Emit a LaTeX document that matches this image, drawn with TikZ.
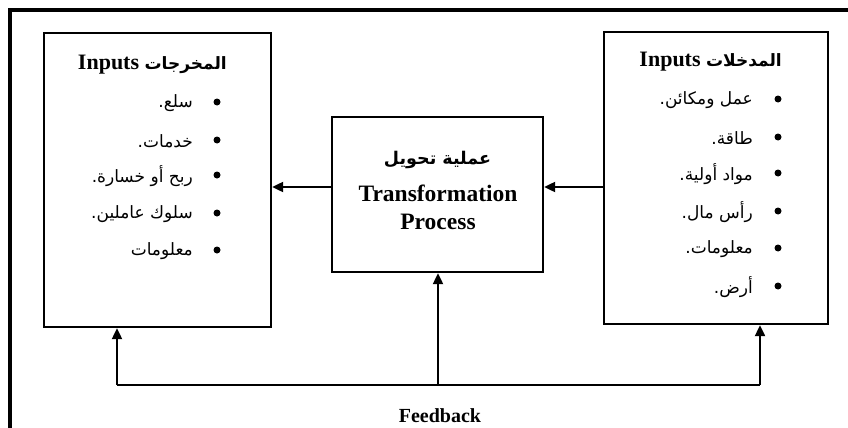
\documentclass[tikz,border=0pt]{standalone}
\usepackage{fontspec}
\setmainfont{Liberation Serif}
\newfontfamily\arb[Script=Arabic]{DejaVu Sans}
\TeXXeTstate=1
\usetikzlibrary{arrows.meta}
\tikzset{
  box/.style={draw, line width=2.4pt, inner sep=0pt},
  arr/.style={line width=2.2pt, -{Triangle[length=11pt,width=10pt]}},
  feed/.style={line width=2.2pt},
  item/.style={anchor=east, inner sep=0pt, font=\arb\fontsize{17}{20}\selectfont},
  ttl/.style={anchor=east, inner sep=0pt, font=\fontsize{22}{26}\selectfont\bfseries},
  bul/.style={circle, fill, inner sep=0pt, minimum size=7pt}
}
\begin{document}
\begin{tikzpicture}[x=1pt,y=-1pt]
\useasboundingbox (0,0) rectangle (848,428);
\fill[white] (0,0) rectangle (848,428);
% outer frame (top and left only)
\draw[line width=4pt] (10,428) -- (10,10) -- (848,10);

% boxes
\node[box, minimum width=227pt, minimum height=294pt] (L) at (157.5,180) {};
\node[box, minimum width=224pt, minimum height=292pt] (R) at (716,178) {};
\node[box, minimum width=211pt, minimum height=155pt] (C) at (437.5,194.5) {};

% center text
\node[inner sep=0pt, font=\arb\bfseries\fontsize{17.5}{20}\selectfont] (ct1) at (437.5,160) {\beginR عملية تحويل\endR};
\node[inner sep=0pt, font=\fontsize{23.5}{27}\selectfont\bfseries] (ct2) at (438,193) {Transformation};
\node[inner sep=0pt, font=\fontsize{23.5}{27}\selectfont\bfseries] (ct3) at (438,222) {Process};

% left box titles and items
\node[ttl] (lt) at (227,65) {Inputs {\arb\fontsize{17}{20}\selectfont\beginR المخرجات\endR}};
\node[item] (l1) at (193,103) {\beginR سلع.\endR};
\node[item] (l2) at (193,141) {\beginR خدمات.\endR};
\node[item] (l3) at (193,176) {\beginR ربح أو خسارة.\endR};
\node[item] (l4) at (193,214) {\beginR سلوك عاملين.\endR};
\node[item] (l5) at (193,251) {\beginR معلومات\endR};
\foreach \y/\n in {102/1,140/2,175/3,213/4,250/5} \node[bul] (lb\n) at (217,\y) {};

% right box titles and items
\node[ttl] (rt) at (782,62) {Inputs {\arb\fontsize{17}{20}\selectfont\beginR المدخلات\endR}};
\node[item] (r1) at (753,100) {\beginR عمل ومكائن.\endR};
\node[item] (r2) at (753,138) {\beginR طاقة.\endR};
\node[item] (r3) at (753,174) {\beginR مواد أولية.\endR};
\node[item] (r4) at (753,212) {\beginR رأس مال.\endR};
\node[item] (r5) at (753,249) {\beginR معلومات.\endR};
\node[item] (r6) at (753,287) {\beginR أرض.\endR};
\foreach \y/\n in {99/1,137/2,173/3,211/4,248/5,286/6} \node[bul] (rb\n) at (778,\y) {};

% arrows between boxes
\coordinate (ya) at (0,187);
\draw[arr] (C.west |- ya) -- (L.east |- ya);
\draw[arr] (R.west |- ya) -- (C.east |- ya);

% feedback
\coordinate (fl) at (117,385);
\coordinate (fr) at (760,385);
\coordinate (fc) at (438,385);
\draw[feed] (fl) -- (fr);
\draw[arr] (fl) -- (fl |- L.south);
\draw[arr] (fr) -- (fr |- R.south);
\draw[arr] (fc) -- (fc |- C.south);
\node[inner sep=0pt, font=\fontsize{20}{24}\selectfont\bfseries] (fb) at (440,416) {Feedback};
\end{tikzpicture}
\end{document}
